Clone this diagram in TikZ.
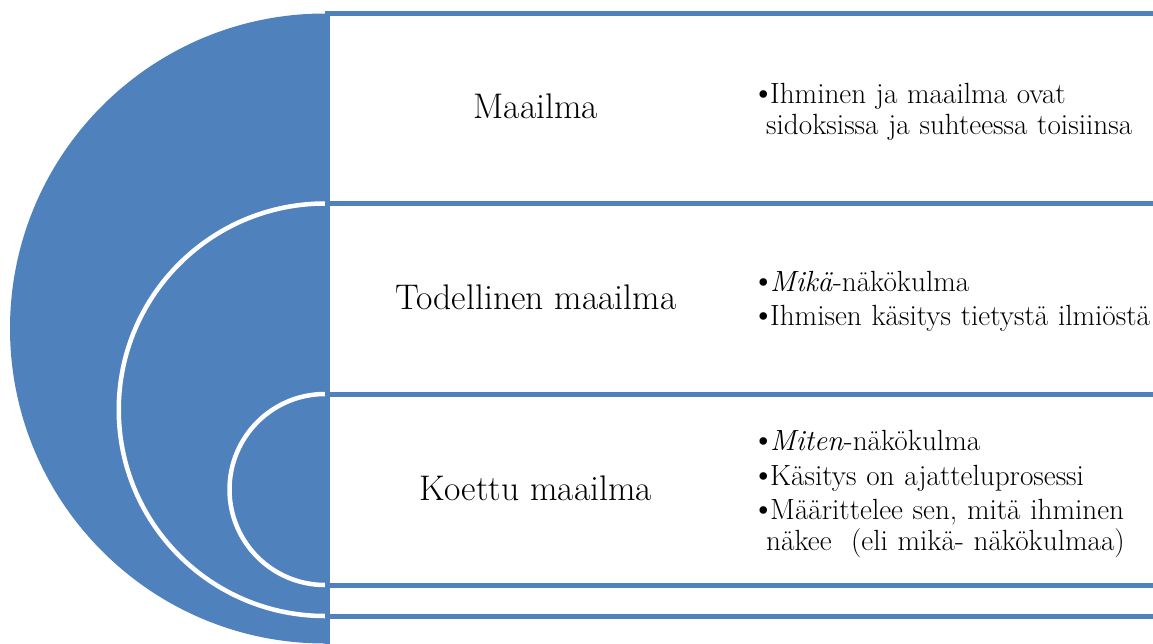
\documentclass[tikz,border=0pt]{standalone}
\usepackage{tikz}
\definecolor{arcblue}{RGB}{79,129,189}
\tikzstyle{title} = [rectangle, align=center, inner sep=0em, font=\fontsize{35.6}{42}\selectfont]
\tikzstyle{points} = [rectangle, anchor=west, align=left, text width=400pt, inner sep=0em, font=\fontsize{29.2}{31}\selectfont]
\tikzstyle{rowline} = [draw=arcblue, line width=5pt]
\tikzstyle{gap} = [draw=white, line width=4.5pt]
\newcommand{\bul}[1]{\parskip=3.5pt\par\noindent\makebox[16pt][l]{\kern-3pt\fontsize{34}{31}\selectfont\textbullet}#1}

\begin{document}
\begin{tikzpicture}[x=1pt, y=-1pt]
      \useasboundingbox (0, 0) rectangle (1153, 643);
      \fill[fill = arcblue] (325, 13.5) arc[start angle=90, end angle=270, radius=315pt] -- cycle;
      \draw[gap] (325, 203.5) arc[start angle=90, end angle=270, radius=206.25pt];
      \draw[gap] (325, 394) arc[start angle=90, end angle=270, radius=95.5pt];
      %\fill[fill = arcblue!80] (325, 394) arc[start angle=90, end angle=270, radius=95.5pt] -- cycle;
      \draw[rowline] (327, 13.5) -- (1160, 13.5);
      \draw[rowline] (327, 203.5) -- (1160, 203.5);
      \draw[rowline] (327, 394) -- (1160, 394);
      \draw[rowline] (327, 585) -- (1160, 585);
      \draw[rowline] (327, 616) -- (1160, 616);
      \draw[rowline] (327, 11) -- (327, 650);
      \node (maailma) at (536, 106) [title] {Maailma};
      \node (todellinen) at (536, 297) [title] {Todellinen maailma};
      \node (koettu) at (536, 488) [title] {Koettu maailma};
      \node (maailmapts) at (754, 105) [points]
                          {\bul{Ihminen ja maailma ovat\\\hspace*{12pt}sidoksissa ja suhteessa toisiinsa}};
      \node (todellinenpts) at (754, 294) [points]
                          {\bul{\textit{Mikä}-näkökulma}\bul{Ihmisen käsitys tietystä ilmiöstä}};
      \node (koettupts) at (754, 487) [points]
                          {\bul{\textit{Miten}-näkökulma}\bul{Käsitys on ajatteluprosessi}\bul{Määrittelee sen, mitä ihminen\\\hspace*{12pt}näkee\ \ (eli mikä- näkökulmaa)}};
    \end{tikzpicture}
\end{document}
